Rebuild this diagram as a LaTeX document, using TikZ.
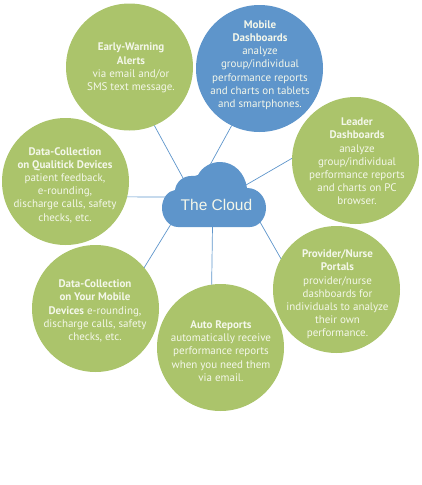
\documentclass[tikz,border=0pt]{standalone}
\usepackage{fontspec}
\setmainfont{PT Sans}
\newfontfamily\cloudfont{Liberation Sans}
\definecolor{leaf}{HTML}{ABC46B}
\definecolor{sky}{HTML}{5E95CB}
\definecolor{paper}{HTML}{F4F7EA}
\tikzset{
  disc/.style={circle,minimum size=127pt,inner sep=0pt,outer sep=0pt},
  greendisc/.style={disc,fill=leaf},
  bluedisc/.style={disc,fill=sky},
  caption/.style={align=center,inner sep=0pt,text=paper,font=\fontsize{11}{13.2}\selectfont},
  link/.style={draw=sky,line width=0.7pt},
  hub/.style={fill=sky,draw=none}
}
\newcommand{\hd}[1]{\textbf{#1}}
\begin{document}
\begin{tikzpicture}[x=1pt,y=-1pt]
\useasboundingbox (0,0) rectangle (422,485);
\node[greendisc] (early) at (129.5,67) {};
\node[bluedisc] (mobile) at (259.5,68.5) {};
\node[greendisc] (leader) at (355.5,160.5) {};
\node[greendisc] (quali) at (65.5,181.5) {};
\node[greendisc] (yours) at (95.5,308.5) {};
\node[greendisc] (auto) at (220.5,347.5) {};
\node[greendisc] (portal) at (336.5,289.5) {};
\node[caption] (earlyT) at (131,68) {\hd{Early-Warning}\\\hd{Alerts}\\via email and/or\\SMS text message.};
\node[caption] (mobileT) at (260,65) {\hd{Mobile}\\\hd{Dashboards}\\analyze\\group/individual\\performance reports\\and charts on tablets\\and smartphones.};
\node[caption] (leaderT) at (357,161.5) {\hd{Leader}\\\hd{Dashboards}\\analyze\\group/individual\\performance reports\\and charts on PC\\browser.};
\node[caption] (qualiT) at (65,185) {\hd{Data-Collection}\\\hd{on Qualitick Devices}\\patient feedback,\\e-rounding,\\discharge calls, safety\\checks, etc.};
\node[caption] (yoursT) at (95,311) {\hd{Data-Collection}\\\hd{on Your Mobile}\\\hd{Devices} e-rounding,\\discharge calls, safety\\checks, etc.};
\node[caption] (autoT) at (221,351) {\hd{Auto Reports}\\automatically receive\\performance reports\\when you need them\\via email.};
\node[caption] (portalT) at (337.5,294.5) {\hd{Provider/Nurse}\\\hd{Portals}\\provider/nurse\\dashboards for\\individuals to analyze\\their own\\performance.};
\coordinate (cEarly) at (183,178);
\coordinate (cMobile) at (210,165);
\coordinate (cLeader) at (246,185);
\coordinate (cQuali) at (166,197);
\coordinate (cYours) at (171,224);
\coordinate (cAuto) at (212.5,226);
\coordinate (cPortal) at (260,222);
\draw[link] (early.-67) -- (cEarly);
\draw[link] (mobile.244) -- (cMobile);
\draw[link] (leader.178) -- (cLeader);
\draw[link] (quali.-14) -- (cQuali);
\draw[link] (yours.40) -- (cYours);
\draw[link] (auto.98.5) -- (cAuto);
\draw[link] (portal.151) -- (cPortal);
\path[hub] (178,227) .. controls (169,227) and (162,218) .. (162,208)
  .. controls (162,198) and (168,191) .. (175,190)
  .. controls (176,182) and (183,176) .. (191,176)
  .. controls (194,176) and (196,176) .. (198,175)
  .. controls (202,167) and (211,162) .. (220,162)
  .. controls (234,162) and (245,173) .. (247,188)
  .. controls (258,188) and (266,197) .. (266,208)
  .. controls (266,219) and (258,227) .. (250,227) -- cycle;
\node[inner sep=0pt,text=paper,font=\cloudfont\fontsize{15.5}{18}\selectfont] (cloud) at (216.5,205) {The Cloud};
\end{tikzpicture}
\end{document}
